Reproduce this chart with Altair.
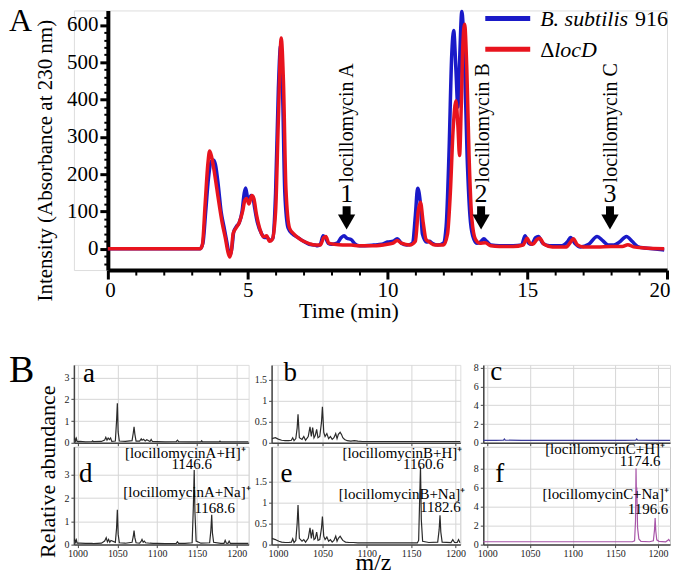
import altair as alt
import pandas as pd

SERIF = "Liberation Serif"
BLUE = "#1a1ac8"
RED = "#e8141e"

# ---------------- Panel A: HPLC chromatogram ----------------
blue_t = [0, 3.30, 3.40, 3.50, 3.60, 3.70, 3.78, 3.85, 3.95, 4.05, 4.15, 4.25, 4.33, 4.38, 4.45, 4.50,
          4.60, 4.70, 4.80, 4.88, 4.93, 5.00, 5.05, 5.12, 5.18, 5.25, 5.35, 5.50, 5.60, 5.70, 5.80,
          5.90, 6.00, 6.10, 6.18, 6.25, 6.33, 6.45, 6.60, 6.80, 7.00, 7.20, 7.40, 7.50, 7.60, 7.70,
          7.78, 7.88, 8.00, 8.20, 8.35, 8.45, 8.55, 8.70, 8.85, 9.00, 9.50, 9.80, 10.00, 10.20, 10.35,
          10.50, 10.70, 10.90, 11.00, 11.08, 11.18, 11.25, 11.40, 11.50, 11.60, 11.80, 12.00, 12.10,
          12.20, 12.30, 12.37, 12.45, 12.52, 12.58, 12.66, 12.75, 12.85, 12.95, 13.05, 13.20, 13.35,
          13.45, 13.55, 13.70, 14.00, 14.50, 14.80, 14.92, 15.05, 15.15, 15.30, 15.40, 15.55, 15.80,
          16.20, 16.45, 16.55, 16.70, 16.90, 17.20, 17.50, 17.70, 17.90, 18.10, 18.30, 18.55, 18.75,
          18.95, 19.20, 19.50, 19.90]
blue_v = [0, 0, 15, 100, 190, 235, 238, 225, 170, 100, 60, 20, -10, -15, 10, 45,
          60, 70, 100, 150, 163, 135, 130, 143, 140, 110, 70, 40, 30, 30, 22,
          28, 150, 430, 545, 420, 150, 55, 40, 30, 20, 12, 10, 8, 12, 35,
          30, 15, 12, 15, 30, 35, 28, 25, 12, 8, 10, 12, 18, 20, 27,
          15, 10, 15, 90, 162, 120, 40, 18, 20, 15, 10, 15, 60,
          250, 520, 585, 480, 380, 500, 636, 520, 250, 90, 35, 15, 20,
          27, 20, 10, 8, 8, 10, 35, 15, 12, 30, 33, 15, 8,
          8, 20, 30, 15, 5, 12, 33, 22, 10, 10, 18, 33, 20,
          6, 2, 0, -3]

red_t = [0, 3.30, 3.38, 3.48, 3.58, 3.64, 3.70, 3.80, 3.90, 4.00, 4.10, 4.20, 4.30, 4.36, 4.42, 4.48,
         4.58, 4.70, 4.82, 4.90, 4.96, 5.05, 5.15, 5.22, 5.32, 5.45, 5.58, 5.68, 5.78, 5.88, 6.00,
         6.10, 6.20, 6.28, 6.37, 6.50, 6.65, 6.80, 7.00, 7.20, 7.40, 7.60, 7.72, 7.80, 7.90, 8.10,
         8.40, 8.70, 9.00, 9.50, 10.00, 10.20, 10.35, 10.50, 10.80, 11.00, 11.10, 11.18, 11.28, 11.38,
         11.50, 11.70, 12.00, 12.15, 12.25, 12.35, 12.45, 12.52, 12.58, 12.64, 12.70, 12.76, 12.84,
         12.92, 13.02, 13.15, 13.30, 13.50, 13.70, 14.00, 14.50, 14.85, 15.00, 15.10, 15.20, 15.35,
         15.45, 15.60, 15.90, 16.40, 16.55, 16.65, 16.80, 17.00, 17.50, 18.00, 18.40, 18.60, 18.80,
         19.20, 19.90]
red_v = [0, 0, 10, 120, 230, 262, 250, 210, 160, 110, 65, 30, -10, -22, -5, 40,
         55, 70, 100, 130, 135, 120, 143, 135, 90, 50, 32, 35, 20, 25, 100,
         350, 565, 450, 160, 55, 40, 30, 20, 14, 10, 10, 30, 33, 15, 12,
         10, 10, 8, 8, 12, 15, 22, 15, 10, 20, 100, 125, 70, 25,
         18, 10, 10, 40, 150, 320, 397, 330, 250, 380, 550, 602, 480,
         250, 80, 25, 15, 16, 8, 6, 6, 10, 28, 15, 12, 25,
         28, 12, 5, 5, 18, 27, 10, 5, 5, 6, 6, 11, 5,
         2, 0]

time_ticks = [0, 5, 10, 15, 20]
time_minor = [1, 2, 3, 4, 6, 7, 8, 9, 11, 12, 13, 14, 16, 17, 18, 19]
int_ticks = [0, 100, 200, 300, 400, 500, 600]
int_minor = [v for v in range(-40, 640, 20) if v % 100 != 0]

arrow_t = [8.54, 13.35, 17.96]
arrow_num = ["1", "2", "3"]
label_t = [8.54, 13.42, 18.0]
label_names = ["locillomycin A", "locillomycin B", "locillomycin C"]

# ---------------- Panel B: mass spectra ----------------
mz_ticks = [1000, 1050, 1100, 1150, 1200]

spec_a = [(995.5, 0.12), (996.5, 0.22), (997.5, 0.08), (998.5, 0.2), (999.5, 0.05), (1003, 0.06),
          (1010, 0.04), (1018, 0.05), (1019, 0.09), (1020, 0.05), (1030, 0.06), (1034, 0.12),
          (1035.5, 0.25), (1037, 0.12), (1038.5, 0.22), (1040, 0.15), (1041.5, 0.22), (1043, 0.06),
          (1047.5, 0.08), (1049, 1.0), (1050, 1.82), (1051, 0.5), (1052.5, 0.08), (1060, 0.06),
          (1068.5, 0.1), (1070, 0.45), (1071, 0.73), (1072, 0.4), (1073.5, 0.08), (1078, 0.08),
          (1080, 0.18), (1081, 0.12), (1083, 0.16), (1085, 0.08), (1087, 0.14), (1091, 0.06),
          (1092.5, 0.15), (1094, 0.06), (1100, 0.05), (1110, 0.04), (1124, 0.05), (1125.5, 0.12),
          (1127, 0.05), (1140, 0.04), (1155, 0.04), (1156, 0.09), (1157, 0.04), (1170, 0.04),
          (1178, 0.04), (1179, 0.08), (1180, 0.04), (1195, 0.04), (1211, 0.04), (1215, 0.04)]

spec_d = [(995.5, 0.15), (996.5, 0.22), (997.5, 0.1), (998.5, 0.2), (999.5, 0.06), (1003, 0.06),
          (1010, 0.05), (1018, 0.05), (1020, 0.04), (1030, 0.06), (1034, 0.15), (1036, 0.3),
          (1037.5, 0.12), (1039, 0.22), (1040.5, 0.1), (1042, 0.18), (1047.5, 0.1), (1049, 0.7),
          (1050, 1.5), (1051, 0.45), (1052.5, 0.08), (1060, 0.06), (1068.5, 0.1), (1070, 0.35),
          (1071, 0.6), (1072, 0.3), (1073.5, 0.08), (1078, 0.06), (1080, 0.15), (1081, 0.22),
          (1082.5, 0.1), (1084, 0.15), (1085.5, 0.08), (1091, 0.06), (1095, 0.05), (1100, 0.05),
          (1110, 0.04), (1124, 0.05), (1125.5, 0.12), (1127, 0.05), (1135, 0.05), (1144, 0.08),
          (1145.5, 1.6), (1146.6, 3.2), (1147.5, 1.4), (1149, 0.15), (1155, 0.06), (1166, 0.08),
          (1167.5, 0.6), (1168.6, 1.28), (1169.5, 0.5), (1171, 0.1), (1180, 0.05), (1184, 0.05),
          (1185.5, 0.18), (1187, 0.06), (1189, 0.05), (1190.5, 0.15), (1192, 0.05), (1200, 0.05),
          (1215, 0.05)]

spec_b = [(993, 0.1), (997, 0.12), (999, 0.1), (1001, 0.08), (1004, 0.06), (1008, 0.05),
          (1012, 0.05), (1015, 0.06), (1016.5, 0.12), (1018, 0.05), (1020, 0.1), (1021.5, 0.35),
          (1022.5, 0.68), (1024, 0.12), (1027, 0.08), (1029, 0.15), (1031, 0.06), (1034, 0.15),
          (1036, 0.38), (1037.5, 0.15), (1039, 0.36), (1040.5, 0.12), (1042, 0.18), (1043.5, 0.32),
          (1045, 0.12), (1047, 0.15), (1049, 0.5), (1050, 0.86), (1051.5, 0.25), (1053, 0.15),
          (1055, 0.22), (1057, 0.1), (1059, 0.15), (1061, 0.08), (1063, 0.12), (1065, 0.22),
          (1066.5, 0.1), (1068, 0.2), (1070, 0.25), (1071.5, 0.2), (1073, 0.12), (1075, 0.08),
          (1078, 0.05), (1082, 0.04), (1086, 0.05), (1090, 0.04), (1095, 0.03), (1100, 0.03),
          (1120, 0.03), (1140, 0.03), (1160, 0.03), (1180, 0.03), (1200, 0.03), (1206, 0.03)]

spec_e = [(993, 0.15), (997, 0.12), (999, 0.1), (1001, 0.08), (1004, 0.06), (1008, 0.05),
          (1012, 0.05), (1015, 0.06), (1016.5, 0.14), (1018, 0.05), (1020, 0.1), (1021.5, 0.5),
          (1022.5, 0.94), (1024, 0.15), (1027, 0.08), (1029, 0.12), (1031, 0.06), (1034, 0.15),
          (1036, 0.4), (1037.5, 0.15), (1039, 0.36), (1040.5, 0.12), (1042, 0.15), (1043.5, 0.3),
          (1045, 0.1), (1047, 0.12), (1049, 0.4), (1050, 0.67), (1051.5, 0.2), (1053, 0.12),
          (1055, 0.18), (1057, 0.08), (1059, 0.12), (1061, 0.06), (1063, 0.1), (1065, 0.2),
          (1066.5, 0.08), (1068, 0.15), (1070, 0.2), (1071.5, 0.15), (1073, 0.1), (1076, 0.06),
          (1080, 0.05), (1085, 0.05), (1090, 0.04), (1100, 0.04), (1120, 0.04), (1140, 0.04),
          (1157, 0.04), (1158.5, 0.1), (1159.8, 1.2), (1160.6, 1.86), (1161.5, 0.6), (1163, 0.08),
          (1170, 0.05), (1180, 0.06), (1181.6, 0.35), (1182.6, 0.7), (1183.5, 0.3), (1185, 0.06),
          (1195, 0.05), (1197, 0.12), (1199, 0.05), (1202, 0.05), (1203.5, 0.12), (1205, 0.05),
          (1206, 0.05)]

spec_c = [(995, 0.25), (1000, 0.25), (1010, 0.25), (1019, 0.28), (1020, 0.4), (1021, 0.28),
          (1040, 0.25), (1080, 0.25), (1120, 0.25), (1160, 0.25), (1174, 0.28), (1175, 0.4),
          (1176, 0.28), (1200, 0.25), (1214, 0.25)]

spec_f = [(995, 0.3), (1020, 0.3), (1060, 0.3), (1100, 0.3), (1140, 0.3), (1170, 0.3),
          (1172.5, 0.4), (1173.6, 2.5), (1174.2, 8.0), (1174.7, 5.0), (1175.1, 6.0), (1176.0, 1.8),
          (1177.5, 0.6), (1180, 0.35), (1190, 0.3), (1194.5, 0.4), (1195.8, 1.5), (1196.6, 2.8),
          (1197.4, 1.4), (1198.5, 0.5), (1201, 0.35), (1209, 0.3), (1211.5, 0.45), (1212.5, 0.55),
          (1214, 0.35)]

# ================= build panel A =================
# plot area is 594 px wide; the time axis occupies pixels 34..594 of it
OFF = 34
xsA = alt.Scale(domain=[0, 20], range=[OFF, OFF + 560], nice=False, zero=False)
ysA = alt.Scale(domain=[-57, 639], nice=False, zero=False)
dummy = pd.DataFrame({"k": [0]})

df_blue = pd.DataFrame({"t": blue_t, "v": blue_v})
df_red = pd.DataFrame({"t": red_t, "v": red_v})

blue_line = alt.Chart(df_blue).mark_line(color=BLUE, strokeWidth=3.5, interpolate="monotone").encode(
    x=alt.X("t:Q", scale=xsA, axis=alt.Axis(
        values=time_ticks, orient="bottom", title="Time (min)", titleFont=SERIF, titleFontSize=22,
        titleFontWeight="normal", titleColor="black", titleX=OFF + 241, titleY=48,
        titleBaseline="alphabetic", titleAlign="center", labelFont=SERIF, labelFontSize=21,
        labelColor="black", labelPadding=1, tickSize=9, tickWidth=3, tickColor="black",
        domainWidth=4, domainColor="black", grid=False, labelFlush=True, labelFlushOffset=3)),
    y=alt.Y("v:Q", scale=ysA, axis=alt.Axis(
        values=int_ticks, orient="left", offset=-OFF, title="Intensity (Absorbance at 230 nm)",
        titleFont=SERIF, titleFontSize=21, titleFontWeight="normal", titleColor="black",
        titleX=-62, titleY=150, titleAngle=270, titleBaseline="middle", titleAlign="center",
        labelFont=SERIF, labelFontSize=21, labelColor="black", labelPadding=2, tickSize=8,
        tickWidth=3, tickColor="black", domainWidth=4, domainColor="black", grid=False)),
)

red_line = alt.Chart(df_red).mark_line(color=RED, strokeWidth=3.5, interpolate="monotone").encode(
    x=alt.X("t:Q", scale=xsA, axis=alt.Axis(
        values=time_minor, orient="bottom", labels=False, title=None, tickSize=5, tickWidth=2,
        tickColor="black", domain=False, grid=False)),
    y=alt.Y("v:Q", scale=ysA, axis=alt.Axis(
        values=int_minor, orient="left", offset=-OFF, labels=False, title=None, tickSize=4,
        tickWidth=2, tickColor="black", domain=False, grid=False)),
)

arrow_df = pd.DataFrame({"t": arrow_t, "num": arrow_num})
label_df = pd.DataFrame({"t": label_t, "name": label_names})
xa = alt.X("t:Q", scale=xsA, axis=None)

stems = alt.Chart(arrow_df).mark_rule(color="black", strokeWidth=8).encode(
    x=xa, y=alt.YDatum(datum=114, axis=None), y2=alt.Y2Datum(datum=86))
heads = alt.Chart(arrow_df).mark_point(shape="triangle-down", filled=True, size=300,
                                       color="black", opacity=1).encode(
    x=xa, y=alt.YDatum(datum=72, axis=None))
nums = alt.Chart(arrow_df).mark_text(font=SERIF, fontSize=26, baseline="alphabetic",
                                     color="black").encode(
    x=xa, y=alt.YDatum(datum=126, axis=None), text="num:N")
names = alt.Chart(label_df).mark_text(font=SERIF, fontSize=20, angle=270, align="left",
                                      baseline="middle", color="black").encode(
    x=xa, y=alt.YDatum(datum=178, axis=None), text="name:N")

leg_blue = alt.Chart(dummy).mark_rule(color=BLUE, strokeWidth=5).encode(
    x=alt.value(OFF + 378), x2=alt.value(OFF + 423), y=alt.value(8))
leg_red = alt.Chart(dummy).mark_rule(color=RED, strokeWidth=5).encode(
    x=alt.value(OFF + 378), x2=alt.value(OFF + 423), y=alt.value(39))
leg_t1 = alt.Chart(dummy).mark_text(text="B. subtilis", font=SERIF, fontSize=22, fontStyle="italic",
                                    align="left", baseline="middle", color="black").encode(
    x=alt.value(OFF + 433), y=alt.value(9))
leg_t2 = alt.Chart(dummy).mark_text(text="916", font=SERIF, fontSize=22, align="left",
                                    baseline="middle", color="black").encode(
    x=alt.value(OFF + 528), y=alt.value(9))
leg_t3 = alt.Chart(dummy).mark_text(text="Δ", font=SERIF, fontSize=22, align="left",
                                    baseline="middle", color="black").encode(
    x=alt.value(OFF + 433), y=alt.value(40))
leg_t4 = alt.Chart(dummy).mark_text(text="locD", font=SERIF, fontSize=22, fontStyle="italic",
                                    align="left", baseline="middle", color="black").encode(
    x=alt.value(OFF + 447), y=alt.value(40))
letter_A = alt.Chart(dummy).mark_text(text="A", font=SERIF, fontSize=32, align="left",
                                      baseline="top", color="black").encode(
    x=alt.value(-65), y=alt.value(-4))

panelA = alt.layer(blue_line, red_line, stems, heads, nums, names, leg_blue, leg_red,
                   leg_t1, leg_t2, leg_t3, leg_t4, letter_A).resolve_axis(
    x="independent", y="independent").properties(width=OFF + 560, height=260)

# ================= build panel B =================
def text_layer(txt, x, y, size=15, align="left", baseline="alphabetic", angle=0):
    kw = dict(text=txt, font=SERIF, fontSize=size, align=align, baseline=baseline, color="black")
    if angle:
        kw["angle"] = angle
    return alt.Chart(dummy).mark_text(**kw).encode(x=alt.value(x), y=alt.value(y))


def ms_panel(spec, color, xdom, ydom, yticks, w, h, bottom, extras, frame):
    df = pd.DataFrame({"mz": [p[0] for p in spec], "ab": [p[1] for p in spec]})
    xs = alt.Scale(domain=xdom, nice=False, zero=False)
    ys = alt.Scale(domain=ydom, nice=False, zero=False)
    xaxis = alt.Axis(values=mz_ticks, grid=True, gridColor="#d6d6d6", gridWidth=1,
                     domainColor="#444", domainWidth=1.5, tickColor="#444", tickSize=3,
                     labels=bottom, labelFont=SERIF, labelFontSize=10, labelColor="#222",
                     labelPadding=1, title=None, format="d", labelFlush=False)
    yaxis = alt.Axis(values=yticks, grid=True, gridColor="#d6d6d6", gridWidth=1,
                     domainColor="#444", domainWidth=1.5, tickColor="#444", tickSize=3,
                     labelFont=SERIF, labelFontSize=10, labelColor="#222", labelPadding=2,
                     title=None, format="~g")
    line = alt.Chart(df).mark_line(color=color, strokeWidth=1.2, clip=True).encode(
        x=alt.X("mz:Q", scale=xs, axis=xaxis), y=alt.Y("ab:Q", scale=ys, axis=yaxis))
    ch = alt.layer(line, *extras).properties(width=w, height=h)
    if frame:
        ch = ch.properties(view=alt.ViewBackground(stroke="#c8c8c8", strokeWidth=1))
    return ch


pa = ms_panel(spec_a, "#2b2b2b", [995.4, 1215], [0, 3.58], [0, 1, 2, 3], 175, 78, False,
              [text_layer("a", 9, 17, size=27),
               text_layer("B", -65, 17, size=38),
               text_layer("Relative abundance", -26, 107, size=22, align="center",
                          baseline="middle", angle=270)], False)
pd_ = ms_panel(spec_d, "#2b2b2b", [995.4, 1215], [0, 4.2], [0, 1, 2, 3], 175, 98, True,
               [text_layer("d", 5, 35, size=27),
                text_layer("[locillomycinA+H]⁺", 172, 11, align="right"),
                text_layer("1146.6", 118, 22, align="center"),
                text_layer("[locillomycinA+Na]⁺", 177, 50, align="right"),
                text_layer("1168.6", 141, 66, align="center")], True)
pb = ms_panel(spec_b, "#2b2b2b", [992.7, 1205.5], [0, 1.86], [0, 0.5, 1, 1.5], 189, 78, False,
              [text_layer("b", 12, 16, size=27)], False)
pe = ms_panel(spec_e, "#2b2b2b", [992.7, 1205.5], [0, 2.33], [0, 0.5, 1, 1.5], 189, 98, True,
              [text_layer("e", 9, 35, size=27),
               text_layer("[locillomycinB+H]⁺", 191, 11, align="right"),
               text_layer("1160.6", 152, 22, align="center"),
               text_layer("[locillomycinB+Na]⁺", 194, 52, align="right"),
               text_layer("1182.6", 169, 65, align="center"),
               text_layer("m/z", 102, 123, size=24, align="center")], True)
pc = ms_panel(spec_c, "#3b3b9b", [995.3, 1214], [0, 8.3], [0, 2, 4, 6, 8], 187, 78, False,
              [text_layer("c", 7, 15, size=27)], False)
pf = ms_panel(spec_f, "#a855a8", [995.3, 1214], [0, 10.3], [0, 2, 4, 6, 8], 187, 98, True,
              [text_layer("f", 12, 35, size=27),
               text_layer("[locillomycinC+H]⁺", 182, 7, align="right"),
               text_layer("1174.6", 157, 19, align="center"),
               text_layer("[locillomycinC+Na]⁺", 186, 52, align="right"),
               text_layer("1196.6", 165, 67, align="center")], True)

panelB = alt.concat(pa, pb, pc, pd_, pe, pf, columns=3,
                    spacing=alt.RowColnumber(row=4, column=23),
                    bounds="flush", align="each")

chart = alt.vconcat(panelA, panelB, spacing=95, bounds="flush").properties(
    padding={"top": -5, "left": 0, "right": 0, "bottom": 0}
).configure_view(stroke=None).configure(background="white")

chart.save("out.html", embed_options={"renderer": "svg", "actions": False})
